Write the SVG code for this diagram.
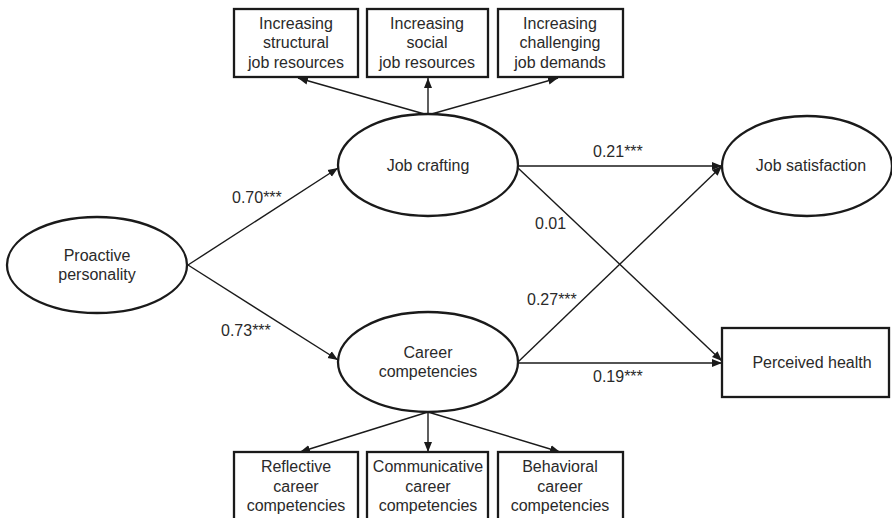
<svg xmlns="http://www.w3.org/2000/svg" width="892" height="518" viewBox="0 0 892 518">
<defs>
<marker id="ah" viewBox="0 0 10 10" refX="10" refY="5" markerWidth="10" markerHeight="10" markerUnits="userSpaceOnUse" orient="auto">
<path d="M0,1 L10,5 L0,9 Z" fill="#1a1a1a"/>
</marker>
<style>
.n{fill:#fff;stroke:#1a1a1a;stroke-width:2.3}
.t{font-family:"Liberation Sans",Arial,sans-serif;font-size:16px;fill:#2a2a2a;text-anchor:middle}
.l{font-family:"Liberation Sans",Arial,sans-serif;font-size:16px;fill:#2a2a2a}
.c{stroke:#1a1a1a;stroke-width:1.4;fill:none;marker-end:url(#ah)}
</style>
</defs>
<rect width="892" height="518" fill="#fff"/>
<g id="connectors">
<line class="c" x1="188" y1="265" x2="338" y2="168"/>
<line class="c" x1="188" y1="265" x2="338" y2="360"/>
<line class="c" x1="428" y1="115" x2="298" y2="78"/>
<line class="c" x1="428" y1="115" x2="428" y2="78"/>
<line class="c" x1="428" y1="115" x2="558" y2="78"/>
<line class="c" x1="428" y1="412" x2="300" y2="452"/>
<line class="c" x1="428" y1="412" x2="428" y2="452"/>
<line class="c" x1="428" y1="412" x2="560" y2="452"/>
<line class="c" x1="518" y1="166" x2="722" y2="166"/>
<line class="c" x1="518" y1="168" x2="722" y2="361"/>
<line class="c" x1="518" y1="362" x2="722" y2="166"/>
<line class="c" x1="518" y1="363" x2="722" y2="363"/>
<text class="l" x="232" y="203">0.70***</text>
<text class="l" x="221" y="336">0.73***</text>
<text class="l" x="593" y="157">0.21***</text>
<text class="l" x="535" y="229">0.01</text>
<text class="l" x="527" y="305">0.27***</text>
<text class="l" x="593" y="382">0.19***</text>
</g>
<g id="proactive">
<ellipse class="n" cx="97" cy="265" rx="90" ry="48"/>
<text class="t" x="97" y="261">Proactive</text>
<text class="t" x="97" y="280">personality</text>
</g>
<g id="jobcrafting">
<ellipse class="n" cx="428" cy="165" rx="90" ry="51"/>
<text class="t" x="428" y="171">Job crafting</text>
</g>
<g id="career">
<ellipse class="n" cx="428" cy="362" rx="90" ry="50"/>
<text class="t" x="428" y="358">Career</text>
<text class="t" x="428" y="377">competencies</text>
</g>
<g id="jobsat">
<ellipse class="n" cx="807" cy="166" rx="85" ry="50"/>
<text class="t" x="811" y="171">Job satisfaction</text>
</g>
<g id="health">
<rect class="n" x="722" y="328" width="167" height="69"/>
<text class="t" x="812" y="368">Perceived health</text>
</g>
<g id="structural">
<rect class="n" x="234" y="9" width="124" height="68"/>
<text class="t" x="296" y="29">Increasing</text>
<text class="t" x="296" y="48">structural</text>
<text class="t" x="296" y="68">job resources</text>
</g>
<g id="social">
<rect class="n" x="367" y="9" width="121" height="68"/>
<text class="t" x="427" y="29">Increasing</text>
<text class="t" x="427" y="48">social</text>
<text class="t" x="427" y="68">job resources</text>
</g>
<g id="challenging">
<rect class="n" x="498" y="9" width="125" height="68"/>
<text class="t" x="560" y="29">Increasing</text>
<text class="t" x="560" y="48">challenging</text>
<text class="t" x="560" y="68">job demands</text>
</g>
<g id="reflective">
<rect class="n" x="234" y="452" width="124" height="70"/>
<text class="t" x="296" y="472">Reflective</text>
<text class="t" x="296" y="492">career</text>
<text class="t" x="296" y="511">competencies</text>
</g>
<g id="communicative">
<rect class="n" x="367" y="452" width="121" height="70"/>
<text class="t" x="428" y="472">Communicative</text>
<text class="t" x="428" y="492">career</text>
<text class="t" x="428" y="511">competencies</text>
</g>
<g id="behavioral">
<rect class="n" x="498" y="452" width="125" height="70"/>
<text class="t" x="560" y="472">Behavioral</text>
<text class="t" x="560" y="492">career</text>
<text class="t" x="560" y="511">competencies</text>
</g>
</svg>
